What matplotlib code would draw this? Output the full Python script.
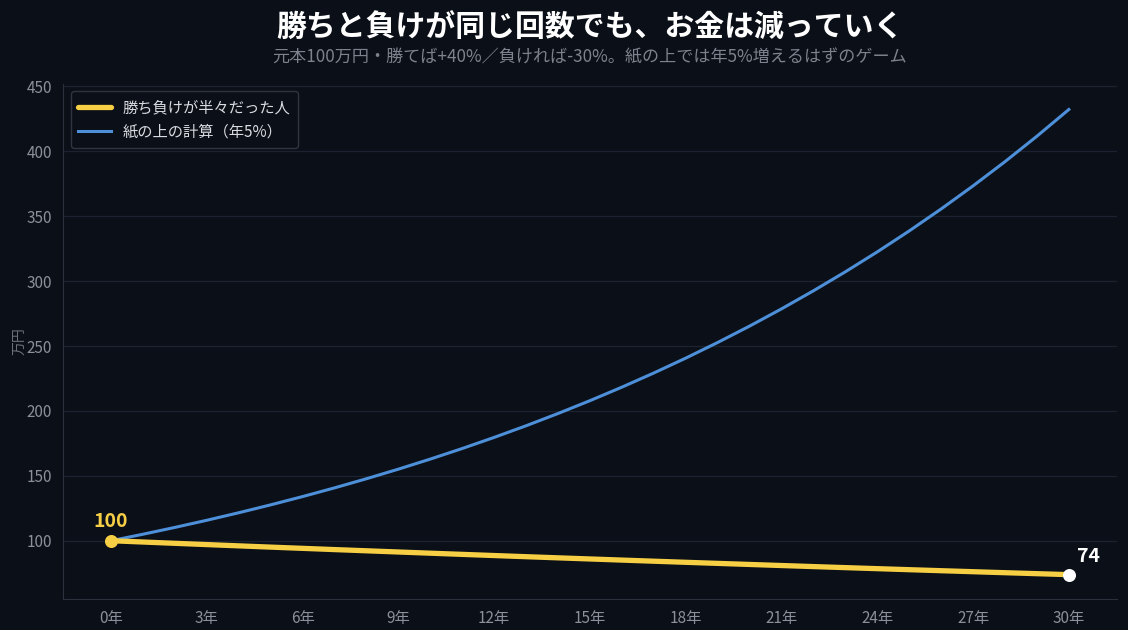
import matplotlib
matplotlib.use("Agg")
import matplotlib.pyplot as plt

plt.rcParams['font.family'] = ['Noto Sans CJK JP', 'DejaVu Sans']

# data (万円, per year)
years = list(range(0, 31))
half_win = [100.0, 98.99, 98.00, 97.02, 96.04, 95.07, 94.12, 93.17, 92.24, 91.31,
            90.39, 89.48, 88.58, 87.69, 86.81, 85.94, 85.08, 84.22, 83.37, 82.54,
            81.71, 80.89, 80.07, 79.27, 78.47, 77.68, 76.90, 76.13, 75.36, 74.61,
            73.86]
paper_calc = [100.0, 105.0, 110.25, 115.76, 121.55, 127.63, 134.01, 140.71, 147.75, 155.13,
              162.89, 171.03, 179.59, 188.56, 197.99, 207.89, 218.29, 229.20, 240.66, 252.70,
              265.33, 278.60, 292.53, 307.15, 322.51, 338.64, 355.57, 373.35, 392.01, 411.61,
              432.19]
xtick_vals = list(range(0, 31, 3))
xtick_labels = [f"{v}年" for v in xtick_vals]
ytick_vals = [100, 150, 200, 250, 300, 350, 400, 450]

title = "勝ちと負けが同じ回数でも、お金は減っていく"
subtitle = "元本100万円・勝てば+40%／負ければ-30%。紙の上では年5%増えるはずのゲーム"

bg = "#0b0f17"
yellow = "#f7cf45"
blue = "#4d8fd8"
tick_col = "#8b909a"

fig = plt.figure(figsize=(11.28, 6.3), dpi=100, facecolor=bg)
ax = fig.add_axes([0.056, 0.049, 0.934, 0.818])
ax.set_facecolor(bg)

ax.plot(years, half_win, color=yellow, lw=3.8, label="勝ち負けが半々だった人", zorder=3,
        solid_capstyle="round")
ax.plot(years, paper_calc, color=blue, lw=2.2, label="紙の上の計算（年5%）", zorder=2)

ax.scatter([years[0]], [half_win[0]], s=70, color=yellow, zorder=4)
ax.scatter([years[-1]], [half_win[-1]], s=70, color="white", zorder=4)
ax.annotate(f"{half_win[0]:.0f}", (years[0], half_win[0]), xytext=(0, 7),
            textcoords="offset points", ha="center", va="bottom",
            color=yellow, fontsize=14, fontweight="bold")
ax.annotate(f"{half_win[-1]:.0f}", (years[-1], half_win[-1]), xytext=(6, 6),
            textcoords="offset points", ha="left", va="bottom",
            color="white", fontsize=14, fontweight="bold")

ax.set_xlim(-1.5, 31.5)
ax.set_ylim(55, 452)
ax.set_xticks(xtick_vals)
ax.set_xticklabels(xtick_labels)
ax.set_yticks(ytick_vals)
ax.tick_params(colors=tick_col, labelsize=11, length=0, pad=8)
ax.grid(axis="y", color="#1c2230", lw=0.9)
ax.set_axisbelow(True)
for s in ["top", "right"]:
    ax.spines[s].set_visible(False)
for s in ["left", "bottom"]:
    ax.spines[s].set_color("#2a303c")
ax.set_ylabel("万円", color="#6c717b", fontsize=10, labelpad=0)

leg = ax.legend(loc="upper left", fontsize=11, facecolor=bg, edgecolor="#2e3440",
                labelcolor="#d8dbe0", framealpha=1, borderpad=0.5, handlelength=2.1)
leg.get_frame().set_linewidth(1.0)

# title centred over the plot area
cx = 0.056 + 0.934 / 2
fig.text(cx, 0.955, title, ha="center", va="center", color="white",
         fontsize=21.5, fontweight="bold")
fig.text(cx, 0.909, subtitle, ha="center", va="center", color="#7d828c", fontsize=12.3)

fig.savefig("out.png", dpi=100, facecolor=bg)
